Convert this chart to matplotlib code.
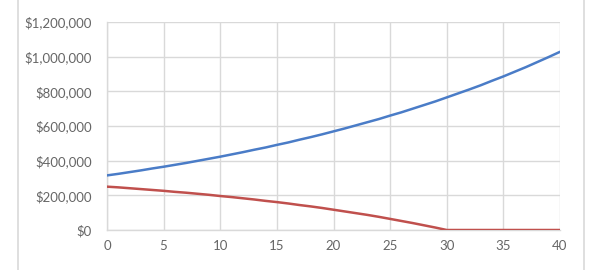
import matplotlib
matplotlib.use("Agg")
from matplotlib import pyplot as plt
from matplotlib.lines import Line2D
from matplotlib.ticker import FuncFormatter

years = list(range(41))

home_value = [315000, 324000, 334000, 344000, 355000, 365000, 376000, 387000, 399000, 411000,
              423000, 436000, 449000, 463000, 476000, 491000, 505000, 521000, 536000, 552000,
              569000, 586000, 604000, 622000, 640000, 660000, 679000, 700000, 721000, 742000,
              765000, 788000, 811000, 835000, 861000, 886000, 913000, 940000, 969000, 998000,
              1028000]

# lower (red) curve, paid down to zero at year 30
loan_balance = [250000, 246000, 241000, 236000, 231000, 226000, 220000, 215000, 209000, 203000,
                196000, 190000, 183000, 176000, 168000, 161000, 153000, 144000, 136000, 127000,
                117000, 107000, 97000, 87000, 76000, 64000, 52000, 40000, 27000, 14000,
                0, 0, 0, 0, 0, 0, 0, 0, 0, 0, 0]

x_ticks = [0, 5, 10, 15, 20, 25, 30, 35, 40]
y_ticks = [0, 200000, 400000, 600000, 800000, 1000000, 1200000]

plt.rcParams['font.family'] = ['Lato', 'DejaVu Sans']

fig = plt.figure(figsize=(6.04, 2.70), dpi=100)
ax = fig.add_axes([107 / 604, 1 - 230 / 270, (560 - 107) / 604, (230 - 22) / 270])

ax.plot(years, home_value, color='#4a7cc7', lw=1.8, solid_capstyle='round', zorder=3)
ax.plot(years, loan_balance, color='#c0504d', lw=1.8, solid_capstyle='round', zorder=3)

ax.set_xlim(0, 40)
ax.set_ylim(0, 1200000)
ax.set_xticks(x_ticks)
ax.set_yticks(y_ticks)
ax.yaxis.set_major_formatter(FuncFormatter(lambda v, p: "${:,.0f}".format(v)))

ax.grid(True, color='#d9d9d9', lw=1)
ax.set_axisbelow(True)
for s in ['top', 'right']:
    ax.spines[s].set_visible(False)
for s in ['left', 'bottom']:
    ax.spines[s].set_color('#d9d9d9')
    ax.spines[s].set_linewidth(1)
ax.tick_params(length=0, labelsize=9.5, colors='#666666')
ax.tick_params(axis='y', pad=11)
ax.tick_params(axis='x', pad=7)

# chart frame edges
fig.add_artist(Line2D([17.5 / 604, 17.5 / 604], [0, 1], color='#d9d9d9', lw=1.2))
fig.add_artist(Line2D([583.5 / 604, 583.5 / 604], [0, 1], color='#d9d9d9', lw=1.2))

fig.savefig("out.png", dpi=100)
